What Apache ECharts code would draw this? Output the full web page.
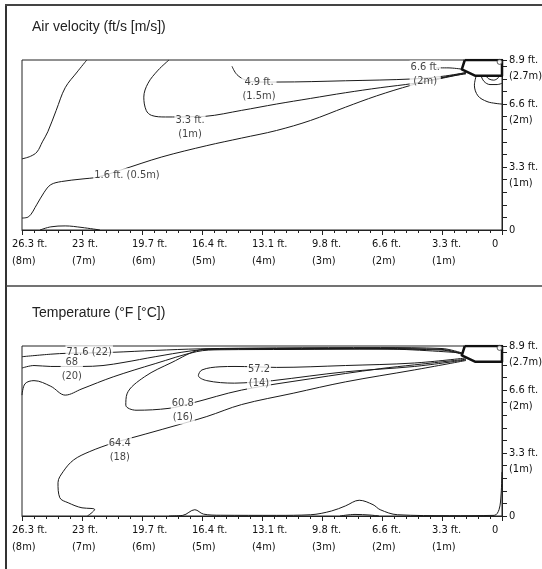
<!DOCTYPE html>
<html><head><meta charset="utf-8">
<script src="https://cdn.jsdelivr.net/npm/echarts@6/dist/echarts.min.js"></script>
<style>html,body{margin:0;padding:0;background:#fff}#c{width:542px;height:569px}</style>
</head><body><div id="c"></div>
<script>
// ---- axis ticks (distance from diffuser wall in m, height in m) ----
const xTickValues = [8, 7, 6, 5, 4, 3, 2, 1, 0];
const xTickFt = ['26.3 ft.', '23 ft.', '19.7 ft.', '16.4 ft.', '13.1 ft.', '9.8 ft.', '6.6 ft.', '3.3 ft.', '0'];
const xTickM = ['(8m)', '(7m)', '(6m)', '(5m)', '(4m)', '(3m)', '(2m)', '(1m)', ''];
const yTickValues = [0, 1, 2, 2.7];
const yTickFt = ['0', '3.3 ft.', '6.6 ft.', '8.9 ft.'];
const yTickM = ['', '(1m)', '(2m)', '(2.7m)'];

const titles = ['Air velocity (ft/s [m/s])', 'Temperature (°F [°C])'];

// ---- diffuser outline ----
const diffuser = [[0.62, 2.7], [0.67, 2.55], [0.45, 2.45], [0, 2.45], [0, 2.7], [0.62, 2.7]];
const diffuserCap = [[0.04, 2.67]];

// ---- air velocity contours [distance m, height m] ----
const velLineOuter = [[6.92, 2.7], [7.08, 2.51], [7.28, 2.26], [7.43, 1.90], [7.57, 1.56], [7.66, 1.40], [7.75, 1.24], [7.86, 1.17], [8.0, 1.13]];
const velLine49 = [[4.5, 2.6], [4.42, 2.47], [4.27, 2.38], [4.05, 2.35], [3.75, 2.35], [2.61, 2.37], [1.46, 2.40], [1.0, 2.44], [0.6, 2.5]];
const velLine33 = [[5.55, 2.7], [5.73, 2.54], [5.90, 2.33], [5.97, 2.11], [5.93, 1.90], [5.84, 1.82], [5.61, 1.795], [5.38, 1.795], [5.15, 1.80], [4.95, 1.805], [4.34, 1.90], [3.76, 2.0], [3.19, 2.09], [2.61, 2.18], [2.03, 2.26], [1.46, 2.33], [1.0, 2.41], [0.6, 2.49]];
const velLine16 = [[8, 0.19], [7.89, 0.21], [7.75, 0.41], [7.63, 0.60], [7.52, 0.72], [7.34, 0.77], [7.0, 0.81], [6.74, 0.84], [6.36, 0.95], [5.67, 1.16], [4.92, 1.34], [4.34, 1.46], [3.76, 1.58], [3.19, 1.74], [2.61, 1.95], [2.09, 2.13], [1.51, 2.30], [1.0, 2.42], [0.6, 2.48]];
const velLine66Upper = [[1.1, 2.575], [0.9, 2.575], [0.67, 2.555]];
const velLine66Lower = [[1.1, 2.39], [0.9, 2.44], [0.6, 2.5]];
const velLine66Tick = [[1.47, 2.62], [1.44, 2.6]];
const velArcLarge = [[0.43, 2.45], [0.46, 2.3], [0.40, 2.13], [0.25, 2.04], [0.1, 2.01], [0, 2.0]];
const velArcMid = [[0.35, 2.45], [0.3, 2.36], [0.2, 2.31], [0.08, 2.31], [0, 2.33]];
const velArcSmall = [[0.27, 2.45], [0.22, 2.40], [0.14, 2.38], [0.07, 2.41], [0.05, 2.45]];
const velFloor = [[7.7, 0], [7.52, 0.05], [7.28, 0.065], [7.0, 0.04], [6.7, 0]];
const velLabelText = ['4.9 ft.\n(1.5m)', '6.6 ft.\n(2m)', '3.3 ft.\n(1m)', '1.6 ft. (0.5m)'];
const velLabelPos = [[4.05, 2.24], [1.28, 2.47], [5.2, 1.64], [6.25, 0.87]];

// ---- temperature contours ----
const tmpLine716 = [[8, 2.53], [7.52, 2.57], [7.23, 2.585], [6.9, 2.59], [6.48, 2.60], [5.78, 2.63], [5.03, 2.655], [3.76, 2.67], [2.03, 2.675], [1.0, 2.66], [0.67, 2.59]];
const tmpLine68 = [[8, 2.35], [7.8, 2.39], [7.52, 2.375], [7.28, 2.375], [7.0, 2.375], [6.65, 2.39], [6.3, 2.44], [5.78, 2.53], [5.2, 2.62], [4.9, 2.645], [3.8, 2.655], [2.0, 2.66], [1.0, 2.645], [0.67, 2.58]];
const tmpLineEdge = [[8, 1.92], [7.95, 2.10], [7.8, 2.15], [7.52, 2.06], [7.28, 1.92], [7.0, 2.02], [6.48, 2.21], [5.78, 2.42], [5.09, 2.61], [4.7, 2.64], [3.5, 2.645], [2.0, 2.65], [1.0, 2.635], [0.67, 2.57]];
const tmpLine608 = [[0.67, 2.59], [2.0, 2.655], [3.8, 2.66], [4.8, 2.655], [5.03, 2.64], [5.5, 2.44], [5.96, 2.21], [6.25, 1.94], [6.27, 1.76], [6.1, 1.68], [5.55, 1.71], [5.18, 1.79], [4.34, 2.0], [3.19, 2.18], [2.03, 2.34], [1.46, 2.40], [0.6, 2.49]];
const tmpLine572 = [[0.6, 2.51], [1.46, 2.43], [2.61, 2.39], [3.76, 2.36], [4.14, 2.37], [4.45, 2.375], [4.7, 2.37], [5.0, 2.32], [5.06, 2.23], [4.92, 2.15], [4.46, 2.11], [4.14, 2.125], [3.82, 2.15], [2.61, 2.29], [1.46, 2.375], [0.6, 2.48]];
const tmpLine644 = [[6.91, 0], [6.79, 0.106], [6.85, 0.12], [7.0, 0.13], [7.23, 0.21], [7.37, 0.29], [7.40, 0.53], [7.31, 0.71], [7.14, 0.89], [6.88, 1.02], [6.48, 1.16], [6.1, 1.26], [5.5, 1.42], [4.92, 1.58], [4.34, 1.77], [3.48, 1.95], [2.61, 2.13], [1.46, 2.32], [0.6, 2.47]];
const tmpFloor = [[5.55, 0], [5.32, 0.01], [5.12, 0.10], [4.975, 0.03], [4.69, 0.012], [3.76, 0.01], [3.19, 0.02], [2.84, 0.08], [2.61, 0.16], [2.38, 0.25], [2.15, 0.18], [2.03, 0.10], [1.74, 0.02], [0.88, 0.005], [0.13, 0.01], [0.05, 0.1], [0.015, 0.35], [0, 0.7]];
const tmpDome = [[2.7, 0], [2.45, 0.025], [2.2, 0.015], [2.05, 0]];
const tmpLabelText = ['71.6 (22)', '68\n(20)', '57.2\n(14)', '60.8\n(16)', '64.4\n(18)'];
const tmpLabelPos = [[6.88, 2.6], [7.17, 2.33], [4.05, 2.22], [5.32, 1.68], [6.37, 1.05]];

// ---- build ----
const NARROW = '"Liberation Sans Narrow","Arial Narrow","DejaVu Sans Condensed",sans-serif';
const INK = '#222';
const gridTops = [60, 346];

function contour(data, g) {
  return { type: 'line', xAxisIndex: g, yAxisIndex: g, data: data, smooth: 0.35, symbol: 'none',
    lineStyle: { color: '#1a1a1a', width: 1 }, silent: true, z: 2 };
}
function labels(pos, text, g) {
  return { type: 'scatter', xAxisIndex: g, yAxisIndex: g, symbolSize: 0, silent: true, z: 5,
    data: pos.map((p, i) => [p[0], p[1], text[i]]),
    label: { show: true, position: 'inside', formatter: p => p.value[2], color: '#111', fontSize: 11,
      fontFamily: NARROW, lineHeight: 14, backgroundColor: '#fff', padding: [0, 1] } };
}
function diffuserSeries(g) {
  return [
    { type: 'line', xAxisIndex: g, yAxisIndex: g, data: diffuser, symbol: 'none', smooth: false,
      lineStyle: { color: '#111', width: 2.5, join: 'round' }, silent: true, z: 6 },
    { type: 'scatter', xAxisIndex: g, yAxisIndex: g, data: diffuserCap, symbol: 'circle', symbolSize: 5,
      itemStyle: { color: '#fff', borderColor: '#333', borderWidth: 1 }, silent: true, z: 7 }
  ];
}

const grids = gridTops.map(t => ({ left: 22, right: 40, top: t, height: 170, show: true,
  borderColor: INK, borderWidth: 1, backgroundColor: 'transparent', outerBoundsMode: 'none', containLabel: false }));

const xAxes = [0, 1].map(g => ({
  gridIndex: g, type: 'value', min: 0, max: 8, interval: 1, inverse: true,
  axisLine: { show: true, lineStyle: { color: INK, width: 1 } },
  axisTick: { show: true, length: 5, lineStyle: { color: INK } },
  minorTick: { show: true, splitNumber: 5, length: 3, lineStyle: { color: INK } },
  splitLine: { show: false }, minorSplitLine: { show: false },
  axisLabel: {
    margin: 6, align: 'center',
    formatter: v => {
      const i = xTickValues.indexOf(Math.round(v));
      if (i < 0) return '';
      return xTickM[i] ? '{a|' + xTickFt[i] + '}\n{a|' + xTickM[i] + '}' : '{a|' + xTickFt[i] + '}';
    },
    rich: { a: { width: 20, align: 'left', fontSize: 11, fontFamily: NARROW, color: '#111', lineHeight: 17 } }
  }
}));

function findTick(v) { return yTickValues.findIndex(t => Math.abs(t - v) < 1e-6); }

// main right axis: ticks + feet labels centred on the tick
const yAxesMain = [0, 1].map(g => ({
  gridIndex: g, type: 'value', position: 'right', min: 0, max: 2.7, interval: 1,
  axisLine: { show: true, lineStyle: { color: INK, width: 1 } },
  axisTick: { show: true, length: 5, lineStyle: { color: INK } },
  minorTick: { show: true, splitNumber: 5, length: 5, lineStyle: { color: INK } },
  splitLine: { show: false }, minorSplitLine: { show: false },
  axisLabel: {
    customValues: yTickValues, showMaxLabel: true, showMinLabel: true, hideOverlap: false,
    margin: 7, color: '#111', fontSize: 11, fontFamily: NARROW, align: 'left', verticalAlign: 'middle',
    formatter: v => { const i = findTick(v); return i < 0 ? '' : yTickFt[i]; }
  }
}));
// companion right axis: metric labels one line below the tick
const yAxesMetric = [0, 1].map(g => ({
  gridIndex: g, type: 'value', position: 'right', min: 0, max: 2.7, interval: 1,
  axisLine: { show: false }, axisTick: { show: false }, minorTick: { show: false },
  splitLine: { show: false }, minorSplitLine: { show: false },
  axisLabel: {
    customValues: yTickValues.slice(1), showMaxLabel: true, showMinLabel: true, hideOverlap: false,
    margin: 7, color: '#111', fontSize: 11, fontFamily: NARROW, align: 'left', verticalAlign: 'top', lineHeight: 32,
    formatter: v => { const i = findTick(v); return i < 0 ? '' : yTickM[i]; }
  }
}));

const velSeries = [velLineOuter, velLine49, velLine33, velLine16, velLine66Upper, velLine66Lower, velLine66Tick,
  velArcLarge, velArcMid, velArcSmall, velFloor].map(d => contour(d, 0));
const tmpSeries = [tmpLine716, tmpLine68, tmpLineEdge, tmpLine608, tmpLine572, tmpLine644, tmpFloor, tmpDome]
  .map(d => contour(d, 1));

const chart = echarts.init(document.getElementById('c'), null, { renderer: 'canvas' });
chart.setOption({
  animation: false,
  backgroundColor: '#fff',
  title: titles.map((t, i) => ({ text: t, left: 32, top: [20, 306][i], padding: 0,
    textStyle: { fontSize: 14, fontWeight: 'normal', color: INK, fontFamily: '"Liberation Sans",Arial,sans-serif' } })),
  grid: grids,
  xAxis: xAxes,
  yAxis: yAxesMain.concat(yAxesMetric),
  graphic: [
    { type: 'line', shape: { x1: 6, y1: 4, x2: 6, y2: 569 }, style: { stroke: '#333', lineWidth: 2 } },
    { type: 'line', shape: { x1: 5, y1: 5, x2: 542, y2: 5 }, style: { stroke: '#444', lineWidth: 2 } },
    { type: 'line', shape: { x1: 6, y1: 286, x2: 542, y2: 286 }, style: { stroke: '#444', lineWidth: 1.5 } }
  ],
  series: [].concat(velSeries, tmpSeries, diffuserSeries(0), diffuserSeries(1),
    [labels(velLabelPos, velLabelText, 0), labels(tmpLabelPos, tmpLabelText, 1)])
});
</script></body></html>
